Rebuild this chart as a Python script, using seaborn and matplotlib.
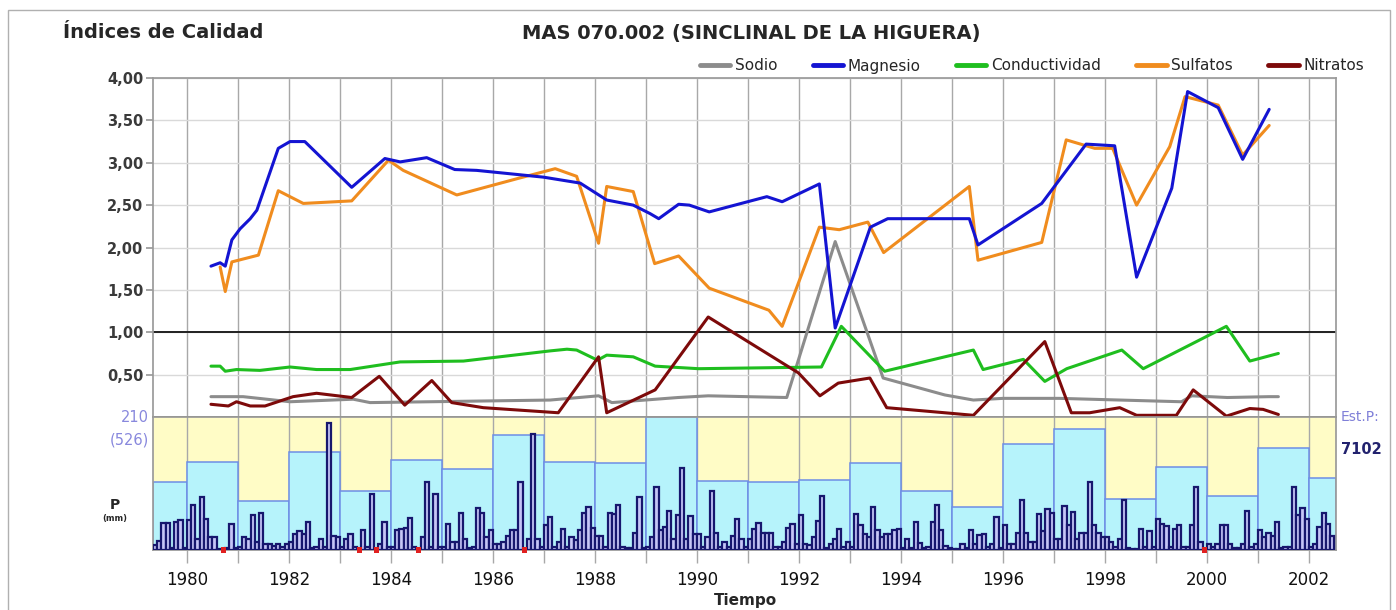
import numpy as np
import pandas as pd
import matplotlib
matplotlib.use("Agg")
import matplotlib.pyplot as plt
import seaborn as sns
from matplotlib.patches import Rectangle
from matplotlib.lines import Line2D
from matplotlib.ticker import FuncFormatter

# --- quality indices (sample date as decimal year, index value) ---
sodio_x = [1980.47, 1981.10, 1982.02, 1983.26, 1983.59, 1987.12, 1988.07, 1988.33, 1989.63, 1990.22,
           1991.76, 1992.71, 1993.65, 1994.86, 1995.42, 1996.00, 1997.10, 1999.50, 1999.70, 2000.40,
           2001.22, 2001.40]
sodio = [0.24, 0.24, 0.18, 0.21, 0.17, 0.20, 0.25, 0.17, 0.23, 0.25,
         0.23, 2.07, 0.46, 0.26, 0.20, 0.22, 0.22, 0.18, 0.25, 0.23,
         0.24, 0.24]

magnesio_x = [1980.47, 1980.65, 1980.75, 1980.88, 1981.04, 1981.24, 1981.37, 1981.79, 1982.02, 1982.31,
              1983.23, 1983.88, 1984.18, 1984.70, 1985.25, 1985.68, 1986.99, 1987.71, 1988.23, 1988.75,
              1989.08, 1989.25, 1989.64, 1989.85, 1990.24, 1991.37, 1991.67, 1992.40, 1992.71, 1993.40,
              1993.74, 1995.34, 1995.51, 1996.76, 1997.63, 1998.19, 1998.62, 1999.31, 1999.62, 2000.22,
              2000.70, 2001.22]
magnesio = [1.78, 1.82, 1.78, 2.09, 2.22, 2.34, 2.44, 3.17, 3.25, 3.25,
            2.71, 3.05, 3.01, 3.06, 2.92, 2.91, 2.83, 2.76, 2.56, 2.50,
            2.40, 2.34, 2.51, 2.50, 2.42, 2.60, 2.54, 2.75, 1.05, 2.24,
            2.34, 2.34, 2.03, 2.52, 3.22, 3.20, 1.65, 2.70, 3.84, 3.65,
            3.04, 3.63]

conduct_x = [1980.47, 1980.65, 1980.75, 1980.97, 1981.43, 1982.02, 1982.54, 1983.20, 1984.18, 1985.42,
             1987.12, 1987.45, 1987.64, 1988.05, 1988.23, 1988.75, 1989.18, 1990.03, 1992.44, 1992.83,
             1993.68, 1994.86, 1995.42, 1995.61, 1996.40, 1996.82, 1997.25, 1998.33, 1998.75, 1999.99,
             2000.38, 2000.84, 2001.40]
conduct = [0.60, 0.60, 0.54, 0.56, 0.55, 0.59, 0.56, 0.56, 0.65, 0.66,
           0.78, 0.80, 0.79, 0.67, 0.73, 0.71, 0.60, 0.57, 0.59, 1.07,
           0.54, 0.71, 0.79, 0.56, 0.68, 0.42, 0.57, 0.79, 0.57, 0.95,
           1.07, 0.66, 0.75]

sulfatos_x = [1980.65, 1980.75, 1980.88, 1981.40, 1981.79, 1982.28, 1983.23, 1983.95, 1984.24, 1985.29,
              1986.46, 1987.22, 1987.64, 1988.07, 1988.23, 1988.75, 1989.17, 1989.64, 1990.24, 1991.41,
              1991.67, 1992.40, 1992.79, 1993.35, 1993.66, 1995.34, 1995.51, 1996.76, 1997.24, 1997.80,
              1998.15, 1998.62, 1999.27, 1999.57, 2000.22, 2000.70, 2001.22]
sulfatos = [1.77, 1.48, 1.83, 1.91, 2.67, 2.52, 2.55, 3.03, 2.91, 2.62,
            2.81, 2.93, 2.84, 2.05, 2.72, 2.66, 1.81, 1.90, 1.52, 1.26,
            1.07, 2.24, 2.21, 2.30, 1.94, 2.72, 1.85, 2.06, 3.27, 3.17,
            3.17, 2.50, 3.19, 3.78, 3.68, 3.09, 3.44]

nitratos_x = [1980.47, 1980.81, 1980.97, 1981.24, 1981.53, 1982.08, 1982.54, 1983.23, 1983.77, 1984.27,
              1984.80, 1985.19, 1985.81, 1987.28, 1988.07, 1988.23, 1989.18, 1990.22, 1991.99, 1992.41,
              1992.77, 1993.39, 1993.72, 1994.86, 1995.42, 1996.82, 1997.34, 1997.70, 1998.29, 1998.62,
              1999.40, 1999.73, 2000.38, 2000.84, 2001.10, 2001.40]
nitratos = [0.15, 0.13, 0.18, 0.13, 0.13, 0.24, 0.28, 0.23, 0.48, 0.14,
            0.43, 0.17, 0.11, 0.05, 0.71, 0.05, 0.32, 1.18, 0.52, 0.25,
            0.40, 0.46, 0.11, 0.05, 0.02, 0.89, 0.05, 0.05, 0.11, 0.02,
            0.02, 0.32, 0.01, 0.10, 0.09, 0.03]

# --- precipitation: annual totals (mm) and monthly values (mm), May 1979 - Jun 2002 ---
years = list(range(1979, 2003))
annual_mm = [267, 350, 192, 386, 235, 357, 321, 453, 350, 344, 526, 274,
             268, 275, 344, 235, 169, 419, 478, 203, 330, 214, 403, 284]
first_month = (1979, 5)
monthly_mm = [
    8, 15, 43, 43, 3, 45, 47, 3,                       # 1979 (may-dec)
    48, 71, 18, 83, 49, 21, 20, 2, 0, 3, 41, 3,        # 1980
    5, 20, 17, 55, 12, 58, 10, 9, 7, 9, 5, 10,         # 1981
    12, 26, 30, 25, 44, 3, 5, 17, 5, 200, 22, 21,      # 1982
    5, 17, 25, 5, 0, 31, 5, 88, 0, 10, 44, 5,          # 1983
    5, 31, 33, 34, 50, 5, 0, 20, 107, 5, 88, 5,        # 1984
    5, 41, 12, 13, 58, 17, 3, 5, 66, 58, 20, 31,       # 1985
    10, 10, 13, 22, 31, 31, 107, 0, 18, 183, 18, 5,    # 1986
    40, 52, 5, 13, 33, 5, 20, 16, 31, 59, 68, 35,      # 1987
    22, 22, 5, 58, 57, 71, 5, 3, 3, 27, 83, 3,         # 1988
    5, 20, 99, 32, 37, 62, 18, 55, 129, 17, 54, 25,    # 1989
    25, 5, 20, 93, 27, 5, 13, 5, 22, 49, 18, 5,        # 1990
    17, 33, 43, 27, 27, 27, 5, 5, 13, 34, 41, 10,      # 1991
    55, 9, 8, 20, 46, 85, 3, 10, 18, 33, 5, 13,        # 1992
    5, 57, 40, 25, 21, 68, 32, 21, 25, 25, 32, 33,     # 1993
    3, 17, 3, 44, 11, 3, 5, 44, 71, 31, 7, 3,          # 1994
    2, 2, 10, 3, 31, 10, 24, 25, 5, 9, 52, 3,          # 1995
    39, 10, 10, 27, 79, 27, 13, 13, 57, 30, 65, 58,    # 1996
    17, 17, 70, 40, 60, 17, 27, 27, 107, 40, 27, 20,   # 1997
    20, 13, 5, 17, 79, 3, 1, 1, 33, 5, 30, 5,          # 1998
    49, 41, 38, 5, 33, 39, 5, 5, 39, 99, 13, 0,        # 1999
    10, 5, 9, 39, 39, 10, 3, 3, 10, 61, 5, 10,         # 2000
    31, 20, 27, 22, 44, 3, 5, 5, 99, 55, 66, 49,       # 2001
    5, 9, 36, 58, 41, 22,                              # 2002 (jan-jun)
]

series = [
    ("Sodio", sodio_x, sodio, "#8c8c8c"),
    ("Magnesio", magnesio_x, magnesio, "#1414d2"),
    ("Conductividad", conduct_x, conduct, "#1fbe1f"),
    ("Sulfatos", sulfatos_x, sulfatos, "#f08c1e"),
    ("Nitratos", nitratos_x, nitratos, "#7d0a0a"),
]
draw_order = ["Sodio", "Conductividad", "Nitratos", "Sulfatos", "Magnesio"]

x_min, x_max = 1979 + 4 / 12, 2002.53

# month bins and annual bins
m0 = first_month[0] + (first_month[1] - 1) / 12
month_edges = m0 + np.arange(len(monthly_mm) + 1) / 12
month_df = pd.DataFrame({"t": (month_edges[:-1] + month_edges[1:]) / 2, "mm": monthly_mm})
year_edges = np.array([x_min] + years[1:] + [x_max])
year_df = pd.DataFrame({"t": (year_edges[:-1] + year_edges[1:]) / 2, "mm": annual_mm})

sns.set_theme(style="white")
plt.rcParams["font.family"] = ["DejaVu Sans"]

W, H = 1396, 610
fig = plt.figure(figsize=(W / 100, H / 100), dpi=100)


def box(x0, y0, x1, y1):
    return [x0 / W, 1 - y1 / H, (x1 - x0) / W, (y1 - y0) / H]


fig.patches.append(Rectangle((8 / W, -0.05), 1382 / W, 1.05 - 10 / H, transform=fig.transFigure,
                             fill=False, edgecolor="#b0b0b0", linewidth=1))

ax = fig.add_axes(box(153, 78, 1336, 417))
ax_a = fig.add_axes(box(153, 417, 1336, 550))
ax_p = ax_a.twinx()

# ---- upper panel: index lines ----
ax.set_facecolor("white")
ax.set_xlim(x_min, x_max)
ax.set_ylim(0, 4)
ax.set_xticks(range(1980, 2003))
ax.set_yticks(np.arange(0.5, 4.01, 0.5))
ax.set_yticklabels([f"{v:.2f}".replace(".", ",") for v in np.arange(0.5, 4.01, 0.5)],
                   fontsize=10.5, fontweight="bold", color="#3a3a3a")
ax.tick_params(axis="x", bottom=False, labelbottom=False)
ax.tick_params(axis="y", left=True, length=5, color="#9a9a9a", pad=2)
ax.grid(axis="x", color="#a8a8a8", linewidth=1)
ax.grid(axis="y", color="#d9d9d9", linewidth=1)
ax.axhline(1.0, color="#202020", linewidth=1.4, zorder=1.5)
for s in ax.spines.values():
    s.set_color("#9a9a9a")
ax.spines["bottom"].set_color("#7a7a5e")
ax.spines["bottom"].set_linewidth(1.3)

colors = {name: c for name, _, _, c in series}
for name in draw_order:
    xs, ys = next((sx, sy) for n, sx, sy, _ in series if n == name)
    sns.lineplot(x=xs, y=ys, ax=ax, color=colors[name], linewidth=2.2,
                 estimator=None, sort=False, zorder=3)
if ax.get_legend():
    ax.get_legend().remove()
ax.set_xlabel("")
ax.set_ylabel("")

# ---- lower panel: precipitation ----
ax_a.set_facecolor("#fffcc6")
sns.histplot(data=year_df, x="t", weights="mm", bins=list(year_edges), ax=ax_a, stat="count",
             color="#b6f3fb", edgecolor="#6e8ee6", linewidth=1.1, alpha=1)
ax_a.set_ylim(0, 526)
ax_a.set_xlim(x_min, x_max)
ax_a.set_yticks([])
ax_a.set_axisbelow(True)
ax_a.grid(axis="x", color="#a8a8a8", linewidth=1)
ax_a.set_xticks(range(1980, 2003))
ax_a.xaxis.set_major_formatter(FuncFormatter(lambda v, p: f"{int(round(v))}" if int(round(v)) % 2 == 0 else ""))
ax_a.tick_params(axis="x", bottom=True, length=9, width=1, color="#a8a8a8", pad=6,
                 labelsize=12, labelcolor="#111111")
ax_a.set_xlabel("")
ax_a.set_ylabel("")
for s in ax_a.spines.values():
    s.set_color("#9a9a9a")

sns.histplot(data=month_df, x="t", weights="mm", bins=list(month_edges), ax=ax_p, stat="count",
             color="#c6c6f6", edgecolor="#17176e", linewidth=1.6, alpha=1)
zero_df = month_df[month_df["mm"] == 0]
sns.scatterplot(data=zero_df, x="t", y="mm", ax=ax_p, color="#e02020", marker="s",
                s=14, edgecolor="none", clip_on=False, zorder=5)
ax_p.set_ylim(0, 210)
ax_p.set_xlim(x_min, x_max)
ax_p.set_yticks([])
ax_p.set_ylabel("")
for s in ax_p.spines.values():
    s.set_visible(False)

# ---- texts ----
def px(x, y):
    return x / W, 1 - y / H


fig.text(*px(63, 33), "Índices de Calidad", fontsize=14, fontweight="bold", va="center", ha="left")
fig.text(*px(751, 33), "MAS 070.002 (SINCLINAL DE LA HIGUERA)", fontsize=14, fontweight="bold",
         va="center", ha="center")
fig.text(*px(149, 417), "210", fontsize=10.5, color="#8888dd", va="center", ha="right")
fig.text(*px(149, 440), "(526)", fontsize=10.5, color="#8888dd", va="center", ha="right")
fig.text(*px(115, 505), "P", fontsize=10, fontweight="bold", va="center", ha="center")
fig.text(*px(115, 518), "(mm)", fontsize=6, fontweight="bold", va="center", ha="center")
fig.text(*px(1341, 417), "Est.P:", fontsize=10, color="#8080d8", va="center", ha="left")
fig.text(*px(1341, 450), "7102", fontsize=10.5, fontweight="bold", color="#22226e", va="center", ha="left")
fig.text(*px(745, 608), "Tiempo", fontsize=11, fontweight="bold", va="bottom", ha="center")

handles = [Line2D([], [], color=c, linewidth=3.5) for _, _, _, c in series]
labels = [n for n, _, _, _ in series]
fig.legend(handles, labels, ncol=5, loc="center right", bbox_to_anchor=(1364 / W, 1 - 66 / H),
           frameon=False, fontsize=11, handlelength=2.0, handletextpad=0.3, columnspacing=2.3,
           borderaxespad=0, borderpad=0)

fig.savefig("out.png", dpi=100)
